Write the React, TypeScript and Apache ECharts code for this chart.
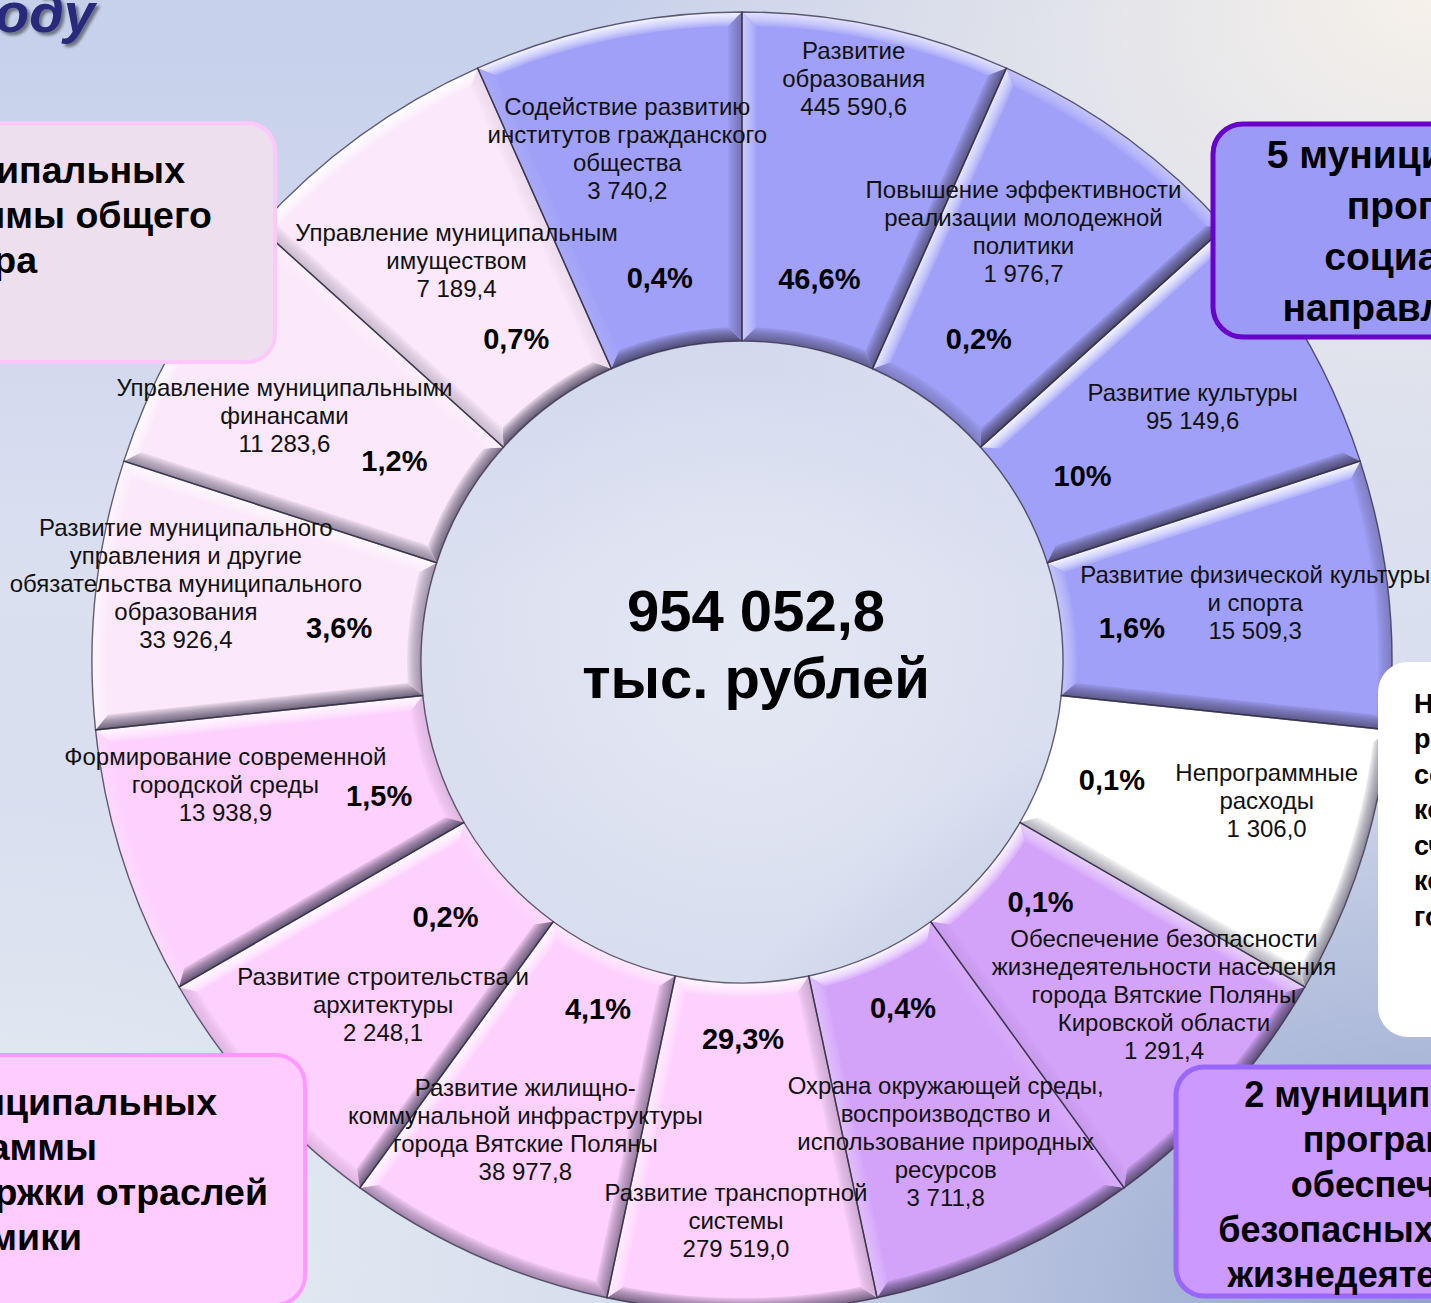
import React, { useEffect, useRef } from "react";
import * as echarts from "echarts";

// ---------- data ----------
const categories = [
  "Развитие\nобразования",
  "Повышение эффективности\nреализации молодежной\nполитики",
  "Развитие культуры",
  "Развитие физической культуры\nи спорта",
  "Непрограммные\nрасходы",
  "Обеспечение безопасности\nжизнедеятельности населения\nгорода Вятские Поляны\nКировской области",
  "Охрана окружающей среды,\nвоспроизводство и\nиспользование природных\nресурсов",
  "Развитие транспортной\nсистемы",
  "Развитие жилищно-\nкоммунальной инфраструктуры\nгорода Вятские Поляны",
  "Развитие строительства и\nархитектуры",
  "Формирование современной\nгородской среды",
  "Развитие муниципального\nуправления и другие\nобязательства муниципального\nобразования",
  "Управление муниципальными\nфинансами",
  "Управление муниципальным\nимуществом",
  "Содействие развитию\nинститутов гражданского\nобщества",
];
const amounts = [
  445590.6, 1976.7, 95149.6, 15509.3, 1306.0, 1291.4, 3711.8, 279519.0,
  38977.8, 2248.1, 13938.9, 33926.4, 11283.6, 7189.4, 3740.2,
];
const shares = [46.6, 0.2, 10, 1.6, 0.1, 0.1, 0.4, 29.3, 4.1, 0.2, 1.5, 3.6, 1.2, 0.7, 0.4];
const groups = [
  "social", "social", "social", "social", "nonprog", "safety", "safety",
  "economy", "economy", "economy", "economy", "general", "general", "general", "social",
];
// the slide draws every programme as an equal sector
const sliceWeights = [1, 1, 1, 1, 1, 1, 1, 1, 1, 1, 1, 1, 1, 1, 1];
const totalText = "954 052,8";
const unitText = "тыс. рублей";

// ---------- styles / layout ----------
const groupColors: Record<string, string> = {
  social: "#a0a0f8",
  nonprog: "#ffffff",
  safety: "#d3a3fa",
  economy: "#fdd0fd",
  general: "#fbe8fa",
};
const nameNudge = [
  [4, -77], [-23, -11], [2, 3], [-2, -5], [32, -22], [37, -14], [-7, 6], [-6, 40],
  [-6, -6], [26, -4], [-24, -38], [-41, -24], [-9, 12], [19, 18], [-7, -7],
];
const shareNudge = [
  [-4, -1], [7, -7], [2, 9], [1, 7], [-2, -3], [8, -22], [2, -11], [1, -14],
  [15, -10], [-6, -7], [9, 13], [-14, 7], [-9, -6], [4, -7], [-1, -2],
];

const FONT = "'Liberation Sans', Arial, sans-serif";
const CX = 742;
const CY = 662;
const R0 = 321;
const R1 = 650;
const BEVEL = 14;
const LIGHT = [-0.5, 0.87];

function hexToRgb(h: string) {
  const v = h.replace("#", "");
  return [parseInt(v.slice(0, 2), 16), parseInt(v.slice(2, 4), 16), parseInt(v.slice(4, 6), 16)];
}
function mix(a: string, b: string, t: number) {
  const A = hexToRgb(a);
  const B = hexToRgb(b);
  const c = A.map((x, i) => Math.round(x + (B[i] - x) * t));
  return `rgb(${c[0]},${c[1]},${c[2]})`;
}
function shade(base: string, b: number) {
  return b >= 0
    ? mix(base, "#ffffff", Math.min(0.92, 0.95 * b))
    : mix(base, "#36314a", Math.min(0.78, 0.8 * -b));
}
const fmtAmount = (v: number) => {
  const [i, d] = v.toFixed(1).split(".");
  return i.replace(/\B(?=(\d{3})+(?!\d))/g, " ") + "," + d;
};
const fmtShare = (v: number) => (Number.isInteger(v) ? String(v) : String(v).replace(".", ",")) + "%";

export default function App() {
  const ref = useRef<HTMLDivElement>(null);

  useEffect(() => {
    if (!ref.current) return;
    const chart = echarts.init(ref.current, null, { renderer: "svg" });

    const total = sliceWeights.reduce((s, v) => s + v, 0);
    const cumStart: number[] = [];
    sliceWeights.reduce((s, v, i) => {
      cumStart[i] = s;
      return s + v;
    }, 0);
    const Ln = Math.hypot(LIGHT[0], LIGHT[1]);
    const lx = LIGHT[0] / Ln;
    const ly = LIGHT[1] / Ln;

    const P = (r: number, a: number) => [CX + r * Math.cos(a), CY - r * Math.sin(a)];
    const arc = (r: number, from: number, to: number, n = 28) => {
      const pts: number[][] = [];
      for (let k = 0; k <= n; k++) pts.push(P(r, from + ((to - from) * k) / n));
      return pts;
    };

    const bevelItem = (params: any) => {
      const i = params.dataIndex;
      const base = groupColors[groups[i]];
      const a0 = ((90 - (360 * cumStart[i]) / total) * Math.PI) / 180;
      const a1 = ((90 - (360 * (cumStart[i] + sliceWeights[i])) / total) * Math.PI) / 180;
      const am = (a0 + a1) / 2;
      const d = BEVEL;
      const Ro = R1 - d;
      const Ri = R0 + d;
      const ao0 = a0 - Math.asin(d / Ro);
      const ao1 = a1 + Math.asin(d / Ro);
      const ai0 = a0 - Math.asin(d / Ri);
      const ai1 = a1 + Math.asin(d / Ri);

      const bOut = Math.cos(am) * lx + Math.sin(am) * ly;
      const bIn = -bOut;
      const bA0 = -Math.sin(a0) * lx + Math.cos(a0) * ly;
      const bA1 = Math.sin(a1) * lx - Math.cos(a1) * ly;

      const stops = (b: number) => [
        { offset: 0, color: shade(base, b) },
        { offset: 0.6, color: shade(base, b * 0.55) },
        { offset: 1, color: shade(base, b * 0.12) },
      ];
      const radial = (edge: number, inner: number, b: number) => {
        const st = stops(b);
        const cs =
          edge > inner
            ? st.map((s) => ({ offset: (inner + (edge - inner) * (1 - s.offset)) / R1, color: s.color })).reverse()
            : st.map((s) => ({ offset: (edge + (inner - edge) * s.offset) / R1, color: s.color }));
        return new echarts.graphic.RadialGradient(CX, CY, R1, cs, true);
      };
      const rm = (R0 + R1) / 2;
      const s0 = P(rm, a0);
      const e0 = [s0[0] + d * Math.sin(a0), s0[1] + d * Math.cos(a0)];
      const s1 = P(rm, a1);
      const e1 = [s1[0] - d * Math.sin(a1), s1[1] - d * Math.cos(a1)];
      const linear = (s: number[], e: number[], b: number) =>
        new echarts.graphic.LinearGradient(s[0], s[1], e[0], e[1], stops(b), true);

      return {
        type: "group",
        children: [
          {
            type: "polygon",
            shape: { points: [...arc(R1, a0, a1), ...arc(Ro, ao1, ao0)] },
            style: { fill: radial(R1, Ro, bOut) },
          },
          {
            type: "polygon",
            shape: { points: [...arc(R0, a1, a0), ...arc(Ri, ai0, ai1)] },
            style: { fill: radial(R0, Ri, bIn) },
          },
          {
            type: "polygon",
            shape: { points: [P(R1, a1), P(R0, a1), P(Ri, ai1), P(Ro, ao1)] },
            style: { fill: linear(s1, e1, bA1) },
          },
          {
            type: "polygon",
            shape: { points: [P(R0, a0), P(R1, a0), P(Ro, ao0), P(Ri, ai0)] },
            style: { fill: linear(s0, e0, bA0) },
          },
        ],
      };
    };

    const baseData = categories.map((name, i) => ({
      name,
      value: sliceWeights[i],
      itemStyle: { color: groupColors[groups[i]] },
    }));
    const plainData = categories.map((name, i) => ({ name, value: sliceWeights[i] }));

    const common: any = {
      type: "pie",
      center: [CX, CY],
      startAngle: 90,
      clockwise: true,
      silent: true,
      avoidLabelOverlap: false,
      emphasis: { disabled: true },
      labelLine: { show: false },
    };

    const textBox = (x: number, y: number, text: string, size: number, align: string) => ({
      type: "text",
      z: 60,
      style: {
        x,
        y,
        text,
        fill: "#000",
        font: `bold ${size}px ${FONT}`,
        textAlign: align,
        textVerticalAlign: "middle",
      },
    });

    const option: any = {
      animation: false,
      series: [
        { ...common, z: 1, radius: [R0, R1], data: baseData, label: { show: false }, itemStyle: { borderWidth: 0 } },
        {
          type: "custom",
          coordinateSystem: "none",
          z: 3,
          silent: true,
          renderItem: bevelItem,
          data: sliceWeights.map((w, i) => [i, w]),
        },
        {
          ...common,
          z: 4,
          radius: [R0, R1],
          data: plainData,
          label: { show: false },
          itemStyle: { color: "transparent", borderColor: "rgba(50,45,68,0.75)", borderWidth: 1.4, borderJoin: "miter" },
        },
        {
          ...common,
          z: 5,
          radius: [R0, 455],
          data: plainData,
          itemStyle: { color: "transparent" },
          label: {
            show: true,
            position: "inside",
            formatter: (p: any) => fmtShare(shares[p.dataIndex]),
            fontFamily: FONT,
            fontWeight: "bold",
            fontSize: 29,
            color: "#000",
          },
          labelLayout: (p: any) => ({ dx: shareNudge[p.dataIndex][0], dy: shareNudge[p.dataIndex][1] }),
        },
        {
          ...common,
          z: 5,
          radius: [380, R1],
          data: plainData,
          itemStyle: { color: "transparent" },
          label: {
            show: true,
            position: "inside",
            formatter: (p: any) => `${categories[p.dataIndex]}\n${fmtAmount(amounts[p.dataIndex])}`,
            fontFamily: FONT,
            fontSize: 24,
            lineHeight: 28,
            color: "#111",
            align: "center",
          },
          labelLayout: (p: any) => ({ dx: nameNudge[p.dataIndex][0], dy: nameNudge[p.dataIndex][1] }),
        },
      ],
      graphic: [
        {
          type: "text",
          z: 60,
          style: {
            x: 95,
            y: 40,
            text: "в 2023 году",
            fill: "#29297d",
            font: `italic bold 56px ${FONT}`,
            textAlign: "right",
            textVerticalAlign: "bottom",
            textShadowColor: "rgba(0,0,0,0.45)",
            textShadowOffsetX: 3,
            textShadowOffsetY: 3,
            textShadowBlur: 3,
          },
        },
        textBox(756, 610, totalText, 58, "center"),
        textBox(756, 677, unitText, 58, "center"),
        {
          type: "rect",
          z: 50,
          shape: { x: -40, y: 123, width: 315, height: 239, r: 28 },
          style: { fill: "#eedfee", stroke: "#ffc8fa", lineWidth: 4 },
        },
        textBox(185, 170, "3 муниципальных", 37.5, "right"),
        textBox(212, 215, "программы общего", 37.5, "right"),
        textBox(37, 260, "характера", 37.5, "right"),
        {
          type: "rect",
          z: 50,
          shape: { x: 1213, y: 124, width: 280, height: 213, r: 30 },
          style: { fill: "#9b9bf7", stroke: "#6a00cc", lineWidth: 5 },
        },
        {
          type: "text",
          z: 60,
          style: {
            x: 1442,
            y: 231,
            text: "5 муниципальных\nпрограмм\nсоциальной\nнаправленности",
            fill: "#000",
            font: `bold 39px ${FONT}`,
            lineHeight: 51,
            textAlign: "center",
            textVerticalAlign: "middle",
          },
        },
        {
          type: "rect",
          z: 50,
          shape: { x: 1378, y: 662, width: 120, height: 375, r: 30 },
          style: { fill: "#ffffff" },
        },
        {
          type: "text",
          z: 60,
          style: {
            x: 1414,
            y: 810,
            text: "Непрограммные\nрасходы\nсодержание\nконтрольно-\nсчетной\nкомиссии\nгорода",
            fill: "#000",
            font: `bold 27px ${FONT}`,
            lineHeight: 35.5,
            textAlign: "left",
            textVerticalAlign: "middle",
          },
        },
        {
          type: "rect",
          z: 50,
          shape: { x: -40, y: 1055, width: 345, height: 250, r: 30 },
          style: { fill: "#ffccff", stroke: "#ff99ff", lineWidth: 4 },
        },
        textBox(217, 1102, "4 муниципальных", 37.5, "right"),
        textBox(97, 1147, "программы", 37.5, "right"),
        textBox(268, 1192, "поддержки отраслей", 37.5, "right"),
        textBox(82, 1237, "экономики", 37.5, "right"),
        {
          type: "rect",
          z: 50,
          shape: { x: 1176, y: 1067, width: 300, height: 229, r: 28 },
          style: { fill: "#cc99ff", stroke: "#9966ff", lineWidth: 5 },
        },
        {
          type: "text",
          z: 60,
          style: {
            x: 1406,
            y: 1184,
            text: "2 муниципальных\nпрограммы\nобеспечения\nбезопасных условий\nжизнедеятельности",
            fill: "#000",
            font: `bold 36px ${FONT}`,
            lineHeight: 45,
            textAlign: "center",
            textVerticalAlign: "middle",
          },
        },
      ],
    };

    chart.setOption(option);
    return () => chart.dispose();
  }, []);

  return (
    <div
      ref={ref}
      style={{
        position: "fixed",
        left: 0,
        top: 0,
        width: 1431,
        height: 1303,
        background:
          "radial-gradient(ellipse 60% 45% at 100% 0%, #f6f1ea 0%, rgba(246,241,234,0) 100%)," +
          "radial-gradient(ellipse 55% 50% at 100% 100%, #92a2cc 0%, rgba(146,162,204,0) 100%)," +
          "radial-gradient(ellipse 50% 40% at 0% 100%, #e6eff3 0%, rgba(230,239,243,0) 100%)," +
          "radial-gradient(circle at 52% 51%, #e5e8f4 0%, rgba(229,232,244,0) 30%)," +
          "linear-gradient(180deg, #c6d0eb 0%, #dbe0f0 45%, #d4dced 100%)",
      }}
    />
  );
}
